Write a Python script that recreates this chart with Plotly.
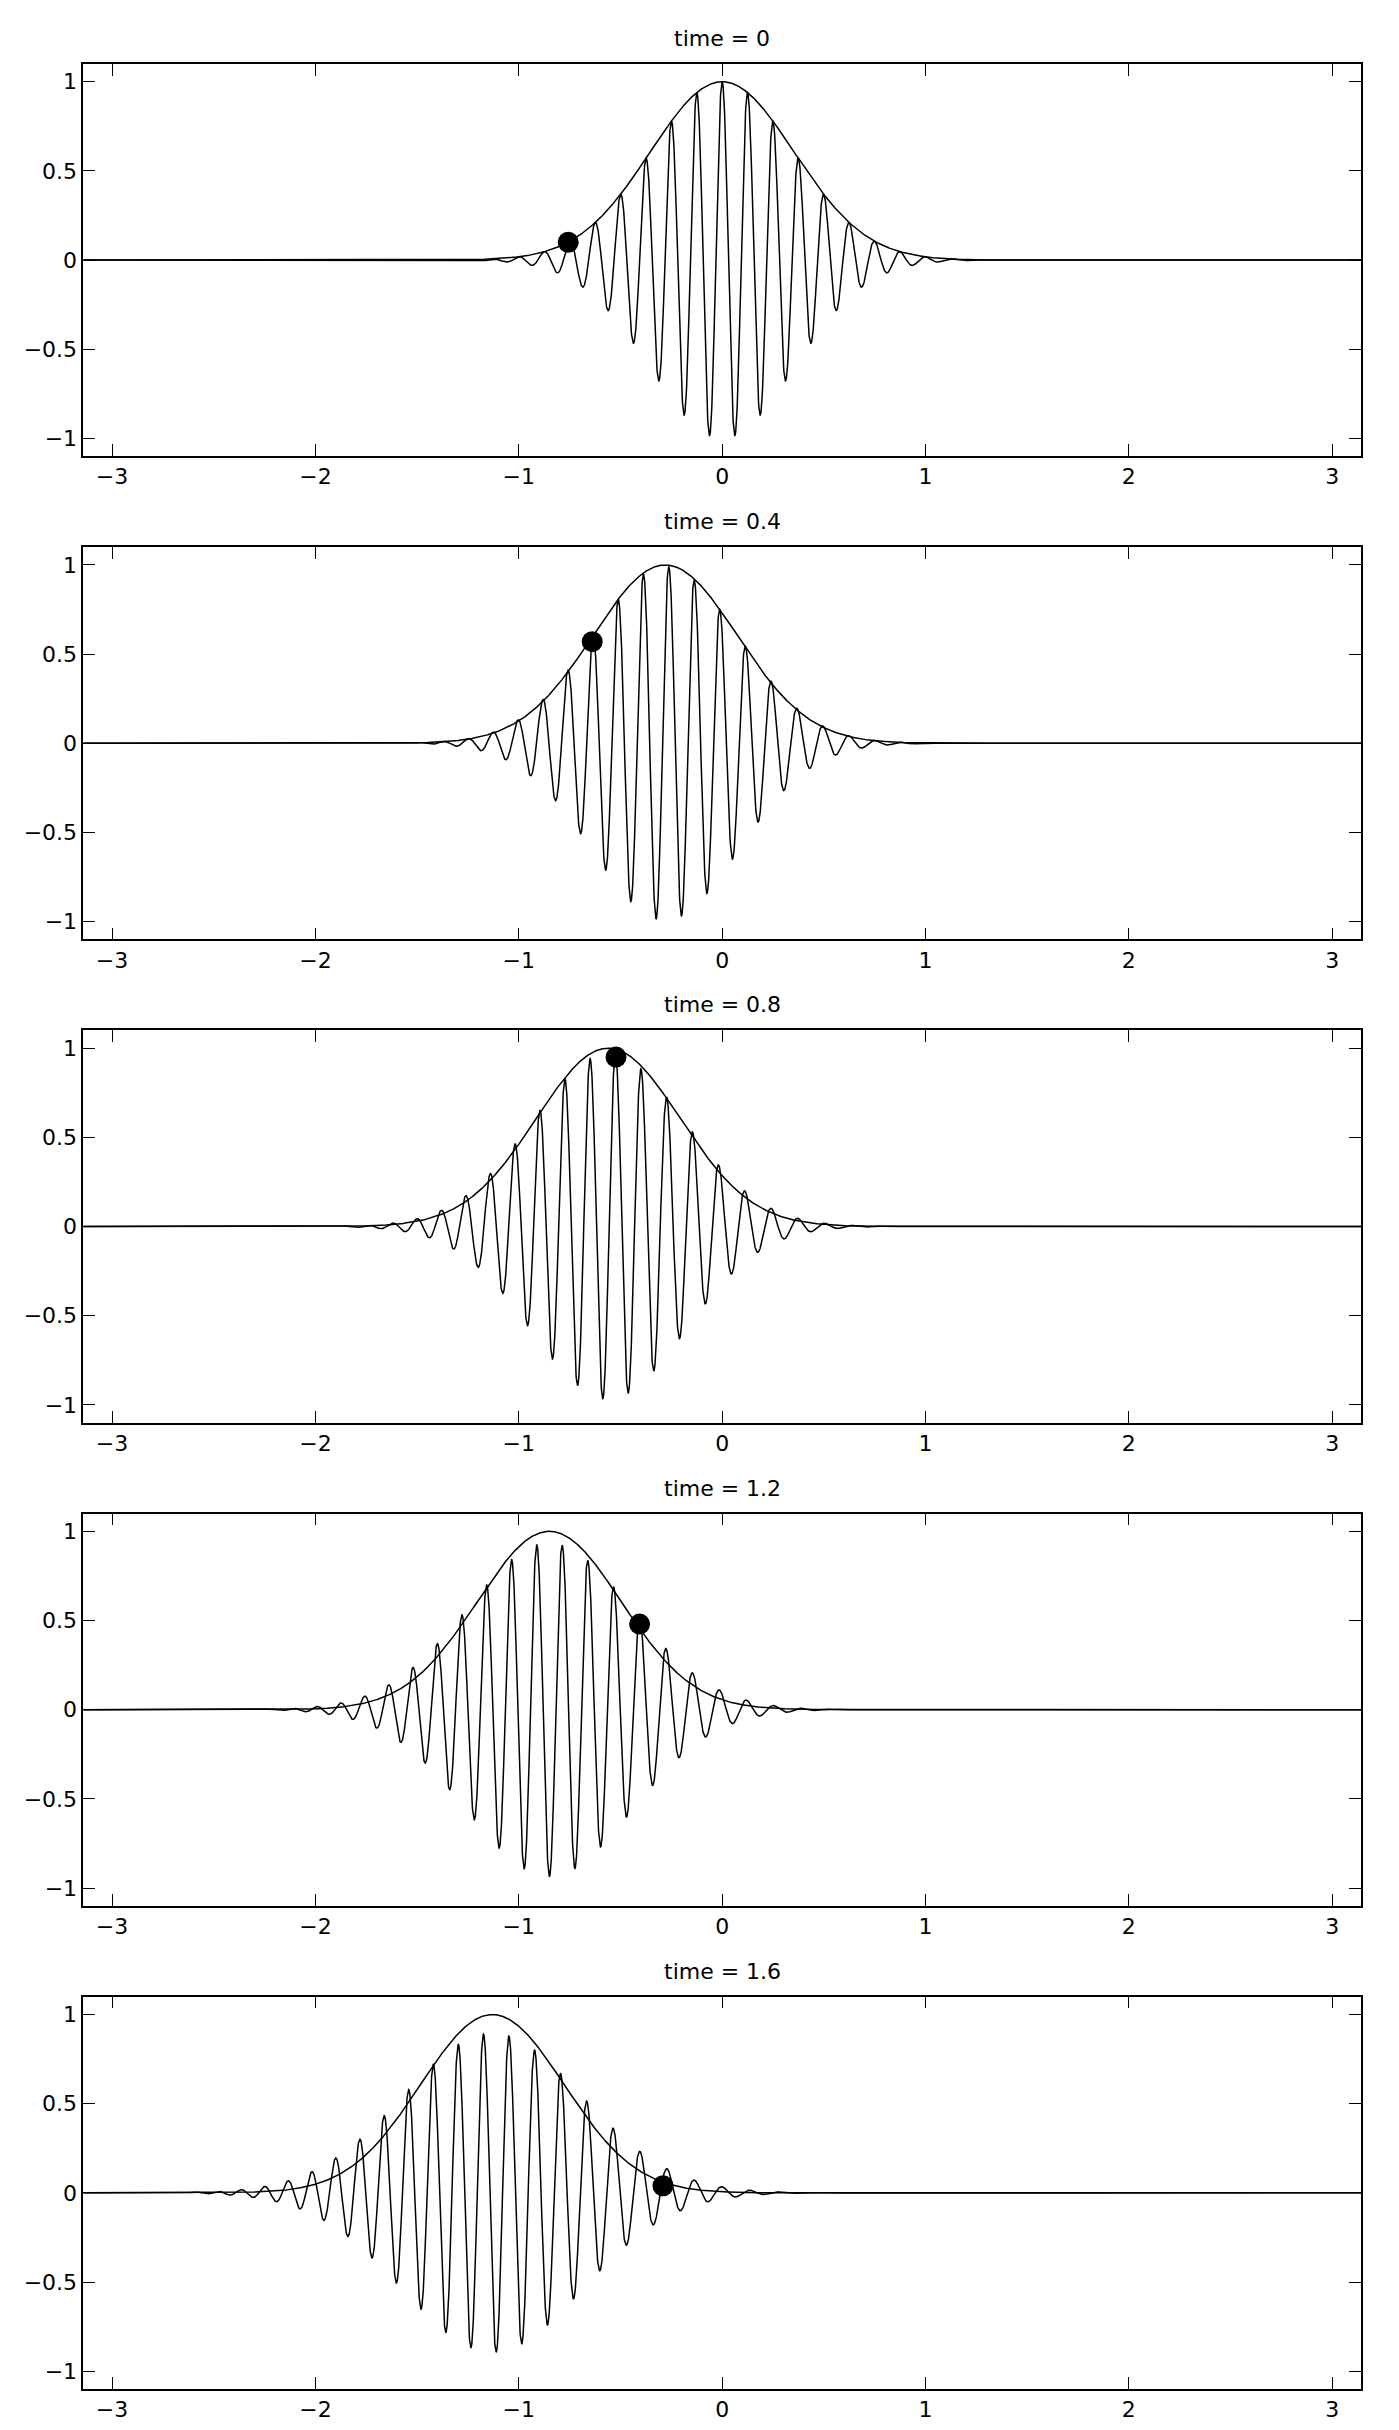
import numpy as np
import plotly.graph_objects as go

# ---- data ----
times = [0, 0.4, 0.8, 1.2, 1.6]
titles = ["time = 0", "time = 0.4", "time = 0.8", "time = 1.2", "time = 1.6"]
envelope_centre = [0.0, -0.28, -0.56, -0.85, -1.13]      # peak of the drawn envelope
packet_spread = [0.0, -0.19, -0.375, -0.56, -0.75]        # chirp/spread parameter per panel
dot_x = [-0.757, -0.639, -0.522, -0.406, -0.291]
dot_y = [0.10, 0.57, 0.95, 0.48, 0.04]
x_ticks = [-3, -2, -1, 0, 1, 2, 3]
y_ticks = [-1, -0.5, 0, 0.5, 1]

crests_per_unit = 8          # carrier: 8 crests per unit of x
envelope_sharpness = 4.0     # envelope = exp(-4 (x - centre)^2)
phase_speed = 0.286          # crest speed (dot motion)

# ---- layout constants (pixels, page coordinates) ----
PAGE_W, PAGE_H = 1399, 2430
BODY = 8                                  # default body margin of the page
W, H = PAGE_W - 2 * BODY, PAGE_H - 2 * BODY
left_px, right_px = 83.3 - BODY, 1361.0 - BODY
top0_px, step_px, panel_h_px = 64.0 - BODY, 484.0, 393.0
FONT = "DejaVu Sans"

k0 = 2 * np.pi * crests_per_unit
x = np.linspace(-np.pi, np.pi, 6001)

fig = go.Figure()
layout = dict(
    width=W, height=H,
    margin=dict(l=0, r=0, t=0, b=0),
    paper_bgcolor="white", plot_bgcolor="white",
    showlegend=False,
    font=dict(family=FONT, size=22, color="black"),
    annotations=[],
)

for i, (t, ttl, c, s, dx, dy) in enumerate(zip(times, titles, envelope_centre,
                                               packet_spread, dot_x, dot_y)):
    xi = x - c
    q = 1 + 1j * s
    g = q ** -0.5 * np.exp(-envelope_sharpness * xi ** 2 / q)
    wave = np.real(g * np.exp(1j * k0 * (x - phase_speed * t)))
    env = np.exp(-envelope_sharpness * xi ** 2)

    xa = "x" if i == 0 else f"x{i+1}"
    ya = "y" if i == 0 else f"y{i+1}"
    fig.add_trace(go.Scatter(x=x, y=wave, mode="lines", xaxis=xa, yaxis=ya,
                             line=dict(color="black", width=1.5), hoverinfo="skip"))
    fig.add_trace(go.Scatter(x=x, y=env, mode="lines", xaxis=xa, yaxis=ya,
                             line=dict(color="black", width=1.5), hoverinfo="skip"))
    fig.add_trace(go.Scatter(x=[dx], y=[dy], mode="markers", xaxis=xa, yaxis=ya,
                             marker=dict(color="black", size=21, line=dict(width=0))))

    top = top0_px + i * step_px
    bot = top + panel_h_px
    ydom = [1 - bot / H, 1 - top / H]
    xdom = [left_px / W, right_px / W]
    axcommon = dict(showline=True, linecolor="black", linewidth=1.6, mirror="ticks",
                    ticks="inside", ticklen=12, tickwidth=1.4, tickcolor="black",
                    showgrid=False, zeroline=False,
                    tickfont=dict(family=FONT, size=22, color="black"))
    layout["xaxis" if i == 0 else f"xaxis{i+1}"] = dict(
        domain=xdom, range=[-np.pi, np.pi], tickvals=x_ticks, anchor=ya, **axcommon)
    layout["yaxis" if i == 0 else f"yaxis{i+1}"] = dict(
        domain=ydom, range=[-1.1, 1.1], tickvals=y_ticks, anchor=xa, **axcommon)
    layout["annotations"].append(dict(
        text=ttl, x=(xdom[0] + xdom[1]) / 2, y=ydom[1], xref="paper", yref="paper",
        xanchor="center", yanchor="bottom", yshift=11, showarrow=False,
        font=dict(family=FONT, size=22, color="black")))

fig.update_layout(**layout)
fig.write_html("out.html")
